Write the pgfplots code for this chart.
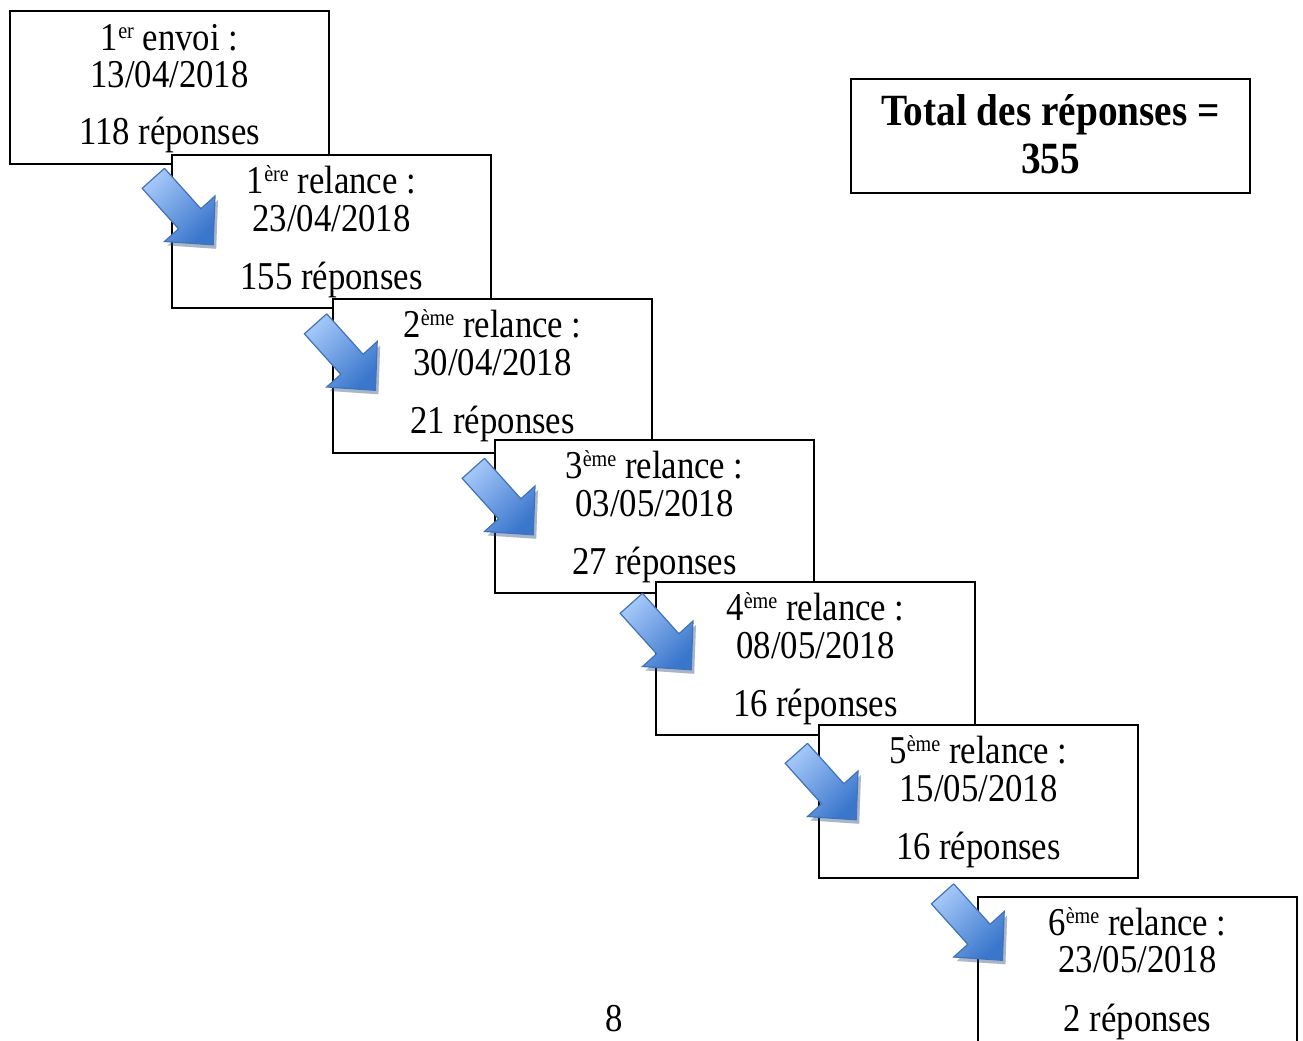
\documentclass[border=0pt]{standalone}
\usepackage{fontspec}
\setmainfont{Liberation Serif}[FakeStretch=0.88]
\usepackage{pgfplots}
\pgfplotsset{compat=1.18}

\definecolor{arrowlight}{HTML}{A3C7F8}
\definecolor{arrowdark}{HTML}{3A76CC}
\definecolor{arrowedge}{HTML}{4173BA}

\pgfplotsset{
  box/.style={draw=black, fill=white, line width=1bp, line join=miter, line cap=rect},
  arrow/.style={draw=arrowedge, line width=0.6bp, line join=miter,
    top color=arrowlight, bottom color=arrowdark, shading angle=45,
    preaction={draw=none, fill=black, opacity=0.22,
      transform canvas={shift={(1.5bp,-2bp)}}}},
}
\newcommand{\txt}{\fontsize{19.8}{22}\selectfont}
\newcommand{\sups}[1]{\raisebox{0.62ex}{\fontsize{11.5}{12}\selectfont #1}}

\begin{document}
\begin{tikzpicture}
\begin{axis}[
    scale only axis,
    width=651.5bp, height=520.5bp,
    xmin=0, xmax=1303, ymin=0, ymax=1041,
    y dir=reverse,
    hide axis,
    no markers,
]
% boxes (pixel coordinates, y downward) and arrows between them
\addplot[box] coordinates {(10,11) (329,11) (329,164) (10,164) (10,11)};
\addplot[box] coordinates {(172,155) (491,155) (491,308) (172,308) (172,155)};
\addplot[arrow] coordinates {(164.5,168.3) (200.9,208.8) (215.0,196.0) (213.2,244.8) (164.5,241.5) (178.6,228.8) (142.2,188.3) (164.5,168.3)};
\addplot[box] coordinates {(333,299) (652,299) (652,453) (333,453) (333,299)};
\addplot[arrow] coordinates {(326.7,313.8) (363.1,354.3) (377.2,341.5) (375.4,390.3) (326.7,387.0) (340.8,374.3) (304.4,333.8) (326.7,313.8)};
\addplot[box] coordinates {(495,440) (814,440) (814,593) (495,593) (495,440)};
\addplot[arrow] coordinates {(484.5,458.3) (520.9,498.8) (535.0,486.0) (533.2,534.8) (484.5,531.5) (498.6,518.8) (462.2,478.3) (484.5,458.3)};
\addplot[box] coordinates {(656,582) (975,582) (975,735) (656,735) (656,582)};
\addplot[arrow] coordinates {(642.5,593.3) (678.9,633.8) (693.0,621.0) (691.2,669.8) (642.5,666.5) (656.6,653.8) (620.2,613.3) (642.5,593.3)};
\addplot[box] coordinates {(819,725) (1138,725) (1138,878) (819,878) (819,725)};
\addplot[arrow] coordinates {(807.5,743.3) (843.9,783.8) (858.0,771.0) (856.2,819.8) (807.5,816.5) (821.6,803.8) (785.2,763.3) (807.5,743.3)};
\addplot[box] coordinates {(978,1070) (978,897) (1297,897) (1297,1070)};
\addplot[arrow] coordinates {(953.7,883.8) (990.1,924.3) (1004.2,911.5) (1002.4,960.3) (953.7,957.0) (967.8,944.3) (931.4,903.8) (953.7,883.8)};
\addplot[box] coordinates {(851,79) (1250,79) (1250,193) (851,193) (851,79)};

% texts
\node[anchor=base] at (axis cs:169.5,50) {\txt 1\sups{er} envoi :};
\node[anchor=base] at (axis cs:169.5,87) {\txt 13/04/2018};
\node[anchor=base] at (axis cs:169.5,144) {\txt 118 réponses};

\node[anchor=base] at (axis cs:331.5,193) {\txt 1\sups{ère} relance :};
\node[anchor=base] at (axis cs:331.5,231) {\txt 23/04/2018};
\node[anchor=base] at (axis cs:331.5,289) {\txt 155 réponses};

\node[anchor=base] at (axis cs:492.5,337) {\txt 2\sups{ème} relance :};
\node[anchor=base] at (axis cs:492.5,375) {\txt 30/04/2018};
\node[anchor=base] at (axis cs:492.5,433) {\txt 21 réponses};

\node[anchor=base] at (axis cs:654.5,478) {\txt 3\sups{ème} relance :};
\node[anchor=base] at (axis cs:654.5,516) {\txt 03/05/2018};
\node[anchor=base] at (axis cs:654.5,574) {\txt 27 réponses};

\node[anchor=base] at (axis cs:815.5,620) {\txt 4\sups{ème} relance :};
\node[anchor=base] at (axis cs:815.5,658) {\txt 08/05/2018};
\node[anchor=base] at (axis cs:815.5,716) {\txt 16 réponses};

\node[anchor=base] at (axis cs:978.5,763) {\txt 5\sups{ème} relance :};
\node[anchor=base] at (axis cs:978.5,801) {\txt 15/05/2018};
\node[anchor=base] at (axis cs:978.5,859) {\txt 16 réponses};

\node[anchor=base] at (axis cs:1137.5,935) {\txt 6\sups{ème} relance :};
\node[anchor=base] at (axis cs:1137.5,972) {\txt 23/05/2018};
\node[anchor=base] at (axis cs:1137.5,1031) {\txt 2 réponses};

\node[anchor=base] at (axis cs:1050.5,125) {\fontsize{22.4}{25}\selectfont\bfseries Total des réponses =};
\node[anchor=base] at (axis cs:1050.5,173) {\fontsize{22.4}{25}\selectfont\bfseries 355};

\node[anchor=base] at (axis cs:614,1031) {\txt 8};
\end{axis}
\pgfresetboundingbox
\useasboundingbox (current axis.south west) rectangle (current axis.north east);
\end{tikzpicture}
\end{document}
